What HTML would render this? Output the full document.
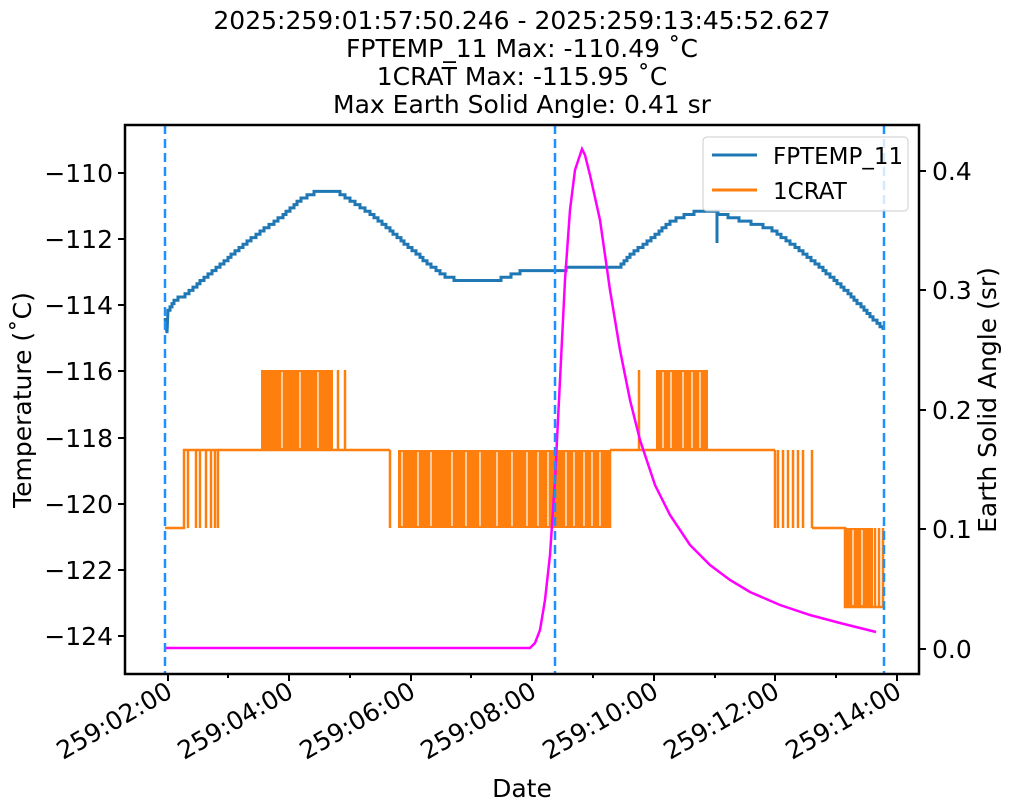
<!DOCTYPE html>
<html><head><meta charset="utf-8"><style>body{margin:0;background:#fff}svg{display:block}text{font-family:"DejaVu Sans","Liberation Sans",sans-serif;fill:#000}</style></head><body>
<svg id="s" width="1011" height="811" viewBox="0 0 1011 811" xmlns="http://www.w3.org/2000/svg">
<g font-size="25" text-anchor="middle">
<text x="522" y="29">2025:259:01:57:50.246 - 2025:259:13:45:52.627</text>
<text x="522" y="57">FPTEMP_11 Max: -110.49 ˚C</text>
<text x="522" y="85">1CRAT Max: -115.95 ˚C</text>
<text x="522" y="113">Max Earth Solid Angle: 0.41 sr</text>
</g>
<g stroke="#ff7f0e" stroke-width="2.5" fill="none">
<polyline points="165,528 184,528 184,450 218,450 218,528"/>
<path d="M188,450V528M196,450V528M200,450V528M206,450V528M211,450V528M215,450V528"/>
<polyline points="218,450 390,450"/>
<path d="M338,450V370M345,450V370M390,450V528M610,450V528M639,450V370M775,450V528M812,450V528M778,450V528M783,450V528M788,450V528M793,450V528M798,450V528M803,450V528"/>
<polyline points="610,450 775,450"/>
<polyline points="812,528 845,528 845,607 883,607 883,528"/>
<path d="M875,528V607M879,528V607"/>
</g>
<g fill="#ff7f0e">
<rect x="261" y="370" width="72" height="80"/>
<rect x="398" y="450" width="212" height="78"/>
<rect x="656" y="370" width="52" height="80"/>
<rect x="845" y="528" width="28" height="79"/>
</g>
<g stroke="#fff" stroke-width="1.2">
<path d="M282,372V448M300,372V448M318,372V448M402,452V526M418,452V526M431,452V526M452,452V526M466,452V526M480,452V526M497,452V526M512,452V526M527,452V526M538,452V526M548,452V526M566,452V526M574,452V526M584,452V526M592,452V526M600,452V526M663,372V448M671,372V448M683,372V448M692,372V448M700,372V448M853,530V605M862,530V605"/>
</g>
<polyline id="blue" fill="none" stroke="#1f77b4" stroke-width="3"/>
<polyline fill="none" stroke="#ff00ff" stroke-width="2.5" points="165,648 530,648 535,643 540,630 545,600 550,555 555,480 560,380 565,280 570,210 575,170 580,155 582,149 585,155 590,175 600,220 610,290 620,350 630,400 640,440 655,485 670,515 690,545 710,565 730,580 750,592 780,605 810,615 840,623 876,632"/>
<g stroke="#1e90ff" stroke-width="2.5" stroke-dasharray="9,5"><path d="M165,125V674M555,125V674M884,125V674"/></g>
<rect x="703" y="137" width="205" height="74" rx="4" fill="#fff" fill-opacity="0.8" stroke="#ccc"/>
<path d="M712,155H757" stroke="#1f77b4" stroke-width="3"/>
<path d="M712,190H757" stroke="#ff7f0e" stroke-width="3"/>
<text x="773" y="164" font-size="23">FPTEMP_11</text>
<text x="773" y="199" font-size="23">1CRAT</text>
<rect x="125" y="125" width="794" height="549" fill="none" stroke="#000" stroke-width="2.5"/>
<g stroke="#000" stroke-width="2"><path d="M118,173H125M118,239H125M118,305H125M118,371H125M118,438H125M118,504H125M118,570H125M118,636H125"/>
<path d="M919,649H926M919,529H926M919,410H926M919,290H926M919,171H926"/>
<path d="M168,674V681M289,674V681M411,674V681M532,674V681M654,674V681M775,674V681M897,674V681"/>
<path d="M228,674V678M350,674V678M471,674V678M593,674V678M715,674V678M836,674V678"/></g>
<g font-size="25" text-anchor="end">
<text x="113" y="182">−110</text><text x="113" y="248">−112</text><text x="113" y="314">−114</text><text x="113" y="380">−116</text><text x="113" y="447">−118</text><text x="113" y="513">−120</text><text x="113" y="579">−122</text><text x="113" y="645">−124</text>
</g>
<g font-size="25"><text x="932" y="658">0.0</text><text x="932" y="538">0.1</text><text x="932" y="419">0.2</text><text x="932" y="299">0.3</text><text x="932" y="180">0.4</text></g>
<g font-size="25" text-anchor="end">
<text transform="translate(174,696) rotate(-30)">259:02:00</text>
<text transform="translate(295,696) rotate(-30)">259:04:00</text>
<text transform="translate(417,696) rotate(-30)">259:06:00</text>
<text transform="translate(538,696) rotate(-30)">259:08:00</text>
<text transform="translate(660,696) rotate(-30)">259:10:00</text>
<text transform="translate(781,696) rotate(-30)">259:12:00</text>
<text transform="translate(903,696) rotate(-30)">259:14:00</text>
</g>
<text x="522" y="797" font-size="25" text-anchor="middle">Date</text>
<text transform="translate(31,400) rotate(-90)" font-size="25" text-anchor="middle">Temperature (˚C)</text>
<text transform="translate(996,400) rotate(-90)" font-size="25" text-anchor="middle">Earth Solid Angle (sr)</text>
</svg>
<script>
var k=[[165,318],[168,310],[175,300],[185,295],[200,282],[220,265],[240,248],[260,232],[280,218],[300,200],[315,192],[335,190],[350,200],[370,213],[390,230],[410,248],[430,265],[445,276],[460,281],[495,281],[520,272],[555,270],[575,268],[620,266],[630,255],[650,240],[670,222],[690,213],[715,212],[740,220],[770,228],[800,250],[820,267],[840,285],[860,305],[883,329]];
var pts=["165,318","167,333"],prev=null;
for(var x=168;x<=883;x+=1){var i=0;while(i<k.length-2&&k[i+1][0]<x)i++;var a=k[i],b=k[i+1];var y=a[1]+(b[1]-a[1])*(x-a[0])/(b[0]-a[0]);var q=Math.round(y/3.3)*3.3;if(prev!==null&&q!==prev){pts.push(x+","+prev);}pts.push(x+","+q);if(x==717){pts.push("717,243");pts.push("717,"+q);}prev=q;}
document.getElementById("blue").setAttribute("points",pts.join(" "));
</script>
</body></html>
